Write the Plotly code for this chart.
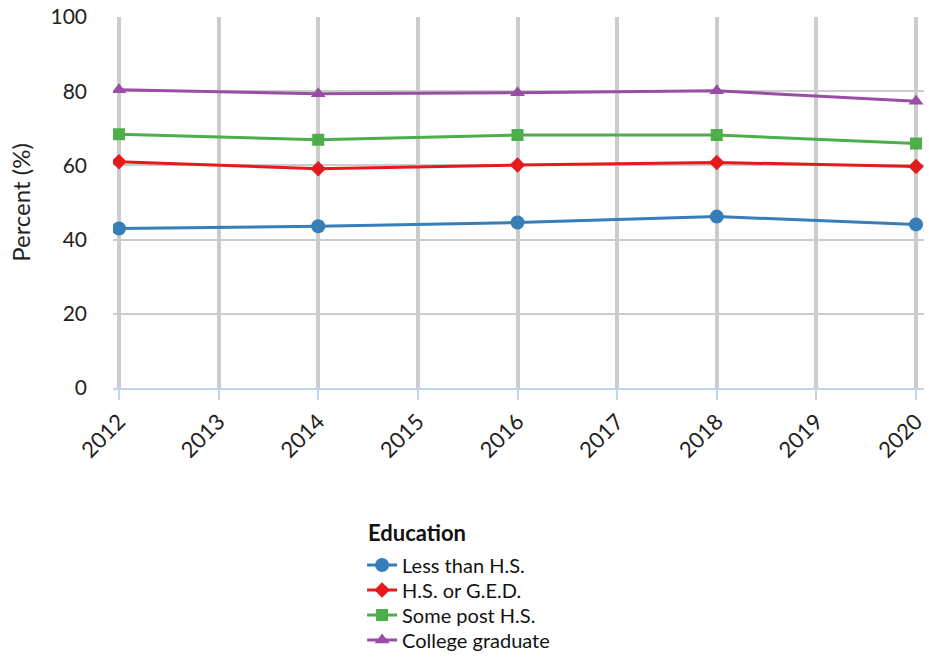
import plotly.graph_objects as go

years = [2012, 2014, 2016, 2018, 2020]
tick_years = [2012, 2013, 2014, 2015, 2016, 2017, 2018, 2019, 2020]
less_hs = [43.0, 43.6, 44.6, 46.2, 44.1]
hs_ged = [61.0, 59.1, 60.1, 60.8, 59.7]
some_post = [68.4, 66.9, 68.2, 68.2, 65.9]
college = [80.4, 79.3, 79.6, 80.1, 77.3]

series = [
    ("Less than H.S.", less_hs, "#377eb8", "circle", 14),
    ("H.S. or G.E.D.", hs_ged, "#e41a1c", "diamond", 12),
    ("Some post H.S.", some_post, "#4daf4a", "square", 12),
    ("College graduate", college, "#984ea3", "triangle-up", 13),
]

# plot area pixel geometry: top 17, bottom 388
PT, PB = 17, 388
def py(p):
    return (PB - p) / (PB - PT)

legend_rows = [565, 590, 615, 640]
legend_names = ["legend", "legend2", "legend3", "legend4"]
LX = (363 - 113) / 814

fig = go.Figure()
for (name, vals, color, sym, size), lg in zip(series, legend_names):
    fig.add_trace(go.Scatter(
        x=years, y=vals, name=name, mode="lines+markers",
        line=dict(color=color, width=3),
        marker=dict(symbol=sym, size=size, color=color),
        legend=lg,
    ))

legend_common = dict(font=dict(size=20, color="#111"), xanchor="left",
                     yanchor="middle", x=LX, bgcolor="rgba(0,0,0,0)",
                     itemwidth=30)
layout_legends = {}
for lg, row in zip(legend_names, legend_rows):
    layout_legends[lg] = dict(legend_common, y=py(row))

fig.update_layout(
    width=929, height=669,
    margin=dict(l=113, r=2, t=PT, b=669 - PB),
    paper_bgcolor="white", plot_bgcolor="white",
    font=dict(family="Lato, 'Open Sans', sans-serif", color="#222222"),
    showlegend=True,
    xaxis=dict(
        range=[2011.94, 2020.08],
        tickmode="array", tickvals=tick_years, ticktext=[str(y) for y in tick_years],
        tickangle=-45, tickfont=dict(size=22), ticklabeloverflow="allow",
        showgrid=True, gridcolor="#cccccc", gridwidth=4,
        showline=True, linecolor="#c3d5e8", linewidth=2,
        ticks="outside", ticklen=10, tickcolor="#c3d5e8", tickwidth=2,
        zeroline=False,
    ),
    yaxis=dict(
        range=[0, 100], tickvals=[0, 20, 40, 60, 80, 100],
        tickfont=dict(size=21),
        showgrid=True, gridcolor="#cccccc", gridwidth=2,
        zeroline=False, showline=False,
        title=dict(text="Percent (%)", font=dict(size=24), standoff=13),
        ticks="", ticklabelstandoff=25,
    ),
    annotations=[dict(
        text="<b>Education</b>", xref="paper", yref="paper",
        x=(367 - 113) / 814, y=py(532), xanchor="left", yanchor="middle",
        showarrow=False, font=dict(size=22, color="#111"),
    )],
    **layout_legends,
)

fig.write_html("out.html")
